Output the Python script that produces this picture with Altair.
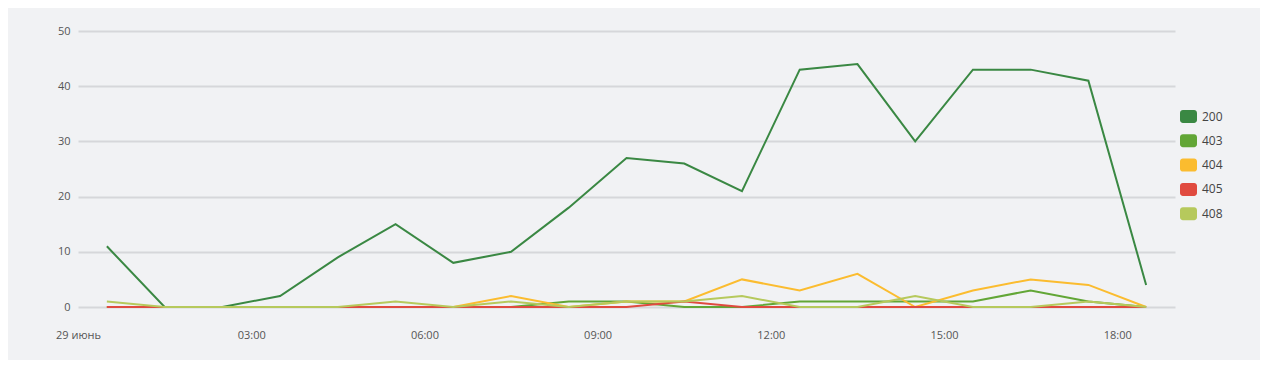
import altair as alt
import pandas as pd

times = ["00:30", "01:30", "02:30", "03:30", "04:30", "05:30", "06:30", "07:30", "08:30", "09:30",
         "10:30", "11:30", "12:30", "13:30", "14:30", "15:30", "16:30", "17:30", "18:30"]
codes = ["200", "403", "404", "405", "408"]
colors = ["#3a8843", "#62a636", "#fbbc2f", "#e04a3f", "#b6c95c"]

s200 = [11, 0, 0, 2, 9, 15, 8, 10, 18, 27, 26, 21, 43, 44, 30, 43, 43, 41, 4]
s403 = [0, 0, 0, 0, 0, 0, 0, 0, 1, 1, 0, 0, 1, 1, 1, 1, 3, 1, 0]
s404 = [0, 0, 0, 0, 0, 0, 0, 2, 0, 1, 1, 5, 3, 6, 0, 3, 5, 4, 0]
s405 = [0, 0, 0, 0, 0, 0, 0, 0, 0, 0, 1, 0, 0, 0, 0, 0, 0, 0, 0]
s408 = [1, 0, 0, 0, 0, 1, 0, 1, 0, 1, 1, 2, 0, 0, 2, 0, 0, 1, 0]

series = dict(zip(codes, [s200, s403, s404, s405, s408]))
rows = []
for code, vals in series.items():
    for t, v in zip(times, vals):
        rows.append({"t": f"2024-06-29T{t}:00", "code": code, "v": v})
df = pd.DataFrame(rows)

tick_hours = [0, 3, 6, 9, 12, 15, 18]
tick_vals = [alt.DateTime(year=2024, month=6, date=29, hours=h) for h in tick_hours]

# filled rounded rectangle legend swatch (17 x 13 px at symbolSize 289)
rounded = ("M-0.65,-0.765 H0.65 A0.35,0.35 0 0 1 1,-0.415 V0.415 A0.35,0.35 0 0 1 0.65,0.765 "
           "H-0.65 A0.35,0.35 0 0 1 -1,0.415 V-0.415 A0.35,0.35 0 0 1 -0.65,-0.765 Z")

x_enc = alt.X("t:T",
              scale=alt.Scale(domain=[alt.DateTime(year=2024, month=6, date=29, hours=0),
                                      alt.DateTime(year=2024, month=6, date=29, hours=19)]),
              axis=alt.Axis(values=tick_vals, title=None, grid=False, domain=False, ticks=False,
                            labelExpr="hours(datum.value) == 0 ? '29 июнь' : timeFormat(datum.value, '%H:%M')",
                            labelFlush=False, labelOverlap=False,
                            labelPadding=22, labelFontSize=11, labelColor="#555555",
                            labelFont="Open Sans"))
y_enc = alt.Y("v:Q", scale=alt.Scale(domain=[0, 50], nice=False),
              axis=alt.Axis(values=[0, 10, 20, 30, 40, 50], title=None, domain=False, ticks=False,
                            gridColor="#d6d7da", gridWidth=2, labelPadding=8,
                            labelFontSize=11, labelColor="#555555", labelFont="Open Sans"))
color_scale = alt.Scale(domain=codes, range=colors)

base = alt.Chart(df)

swatches = base.mark_point(filled=True, opacity=1).transform_filter("false").encode(
    x=x_enc, y=y_enc,
    color=alt.Color("code:N", scale=color_scale,
                    legend=alt.Legend(title=None, orient="none", legendX=1102, legendY=77,
                                      symbolType=rounded, symbolSize=289, symbolStrokeWidth=0,
                                      symbolOpacity=1, rowPadding=8.3, labelOffset=5, padding=0,
                                      labelFontSize=12, labelColor="#444444",
                                      labelFont="Open Sans")),
)

lines = base.mark_line(strokeWidth=2, interpolate="linear").encode(
    x=x_enc, y=y_enc,
    color=alt.Color("code:N", scale=color_scale, legend=None),
)

chart = alt.layer(swatches, lines).properties(
    width=1097, height=276,
    background="#f1f2f4",
    padding={"left": 70, "top": 23, "right": 85, "bottom": 53},
    autosize=alt.AutoSizeParams(type="none"),
).configure_view(stroke=None)

chart.save("out.html", embed_options={"renderer": "svg", "actions": False})
